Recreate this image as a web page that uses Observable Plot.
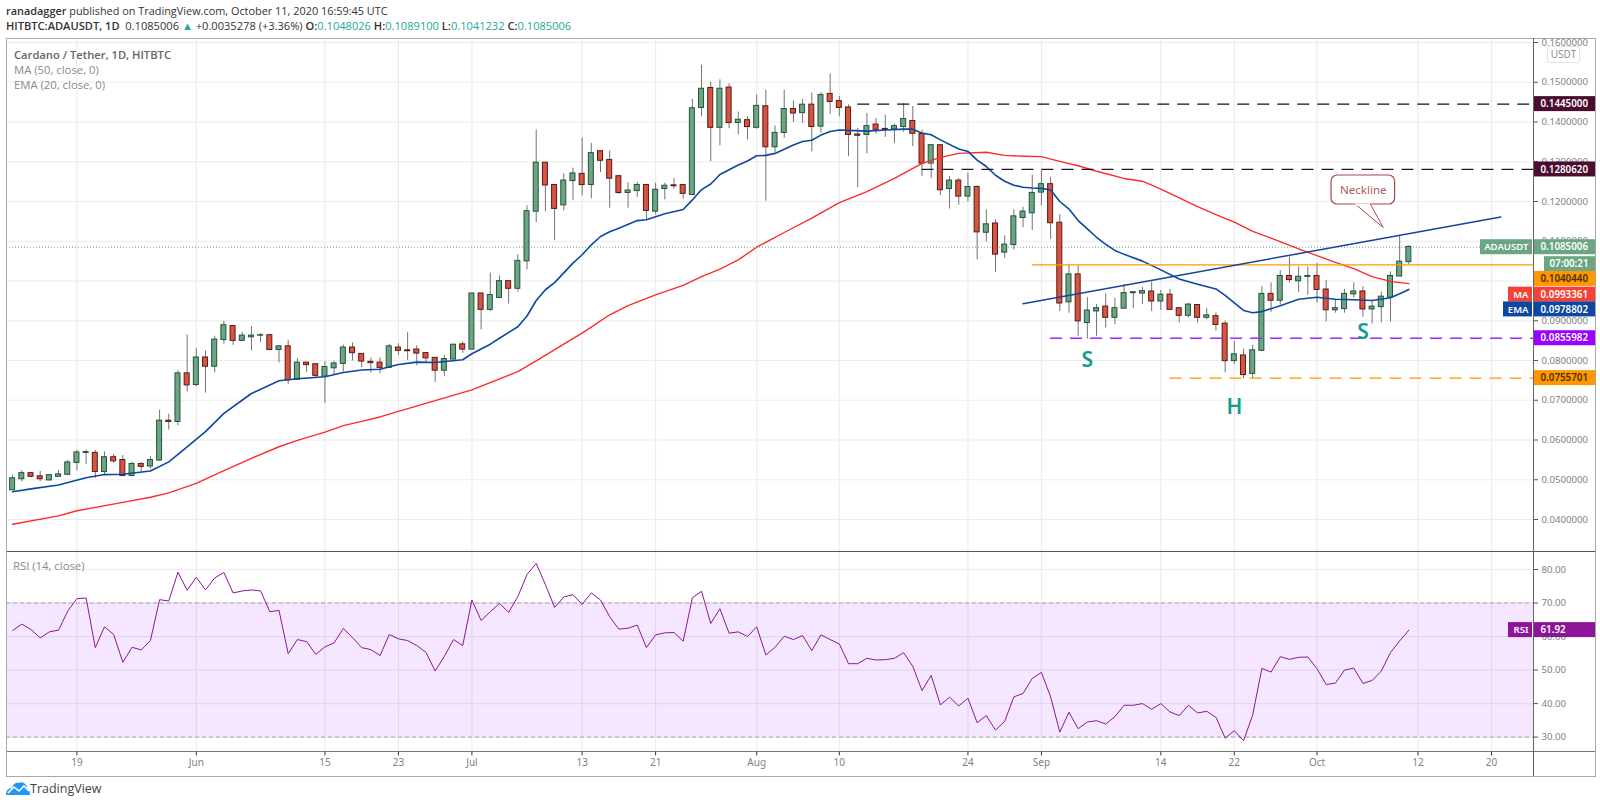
<!DOCTYPE html>
<html><head><meta charset="utf-8">
<script src="https://cdn.jsdelivr.net/npm/d3@7"></script>
<script src="https://cdn.jsdelivr.net/npm/@observablehq/plot@0.6"></script>
<style>
html,body{margin:0;padding:0;background:#fff;font-family:"Open Sans",sans-serif}
#root{position:relative;width:1600px;height:805px;overflow:hidden;background:#fff}
#root>*{position:absolute}
.t{color:#26a69a}
</style></head><body><div id="root"></div>
<script>
const open=[.0474,.0502,.0516,.0508,.0499,.0508,.0513,.0543,.0568,.0567,.0520,.0556,.0549,.0510,.0539,.0534,.0549,.0648,.0646,.0767,
.0739,.0807,.0785,.0852,.0886,.0850,.0859,.0863,.0863,.0827,.0835,.0752,.0794,.0790,.0760,.0781,.0792,.0832,.0816,.0796,.0794,.0782,.0832,.0825,.0827,.0818,.0806,.0775,.0803,.0840,
.0828,.0968,.0928,.0958,.0999,.0981,.1050,.1175,.1297,.1241,.1191,.1252,.1269,.1242,.1326,.1304,.1263,.1222,.1227,.1241,.1175,.1232,.1240,.1241,.1217,.1436,.1485,.1386,.1486,.1398,.1404,
.1386,.1439,.1337,.1373,.1432,.1423,.1443,.1389,.1470,.1452,.1436,.1368,.1368,.1393,.1382,.1382,.1388,.1402,.1369,.1296,.1341,.1232,.1252,.1213,.1236,.1122,.1144,.1072,.1091,.1159,.1171,
.1223,.1243,.1146,.0947,.1016,.0895,.0924,.0935,.0908,.0931,.0970,.0969,.0973,.0949,.0965,.0931,.0913,.0939,.0908,.0911,.0892,.0799,.0812,.0767,.0825,.0967,.0951,.1012,.1000,.1011,
.1012,.0978,.0927,.0930,.0967,.0973,.0929,.0935,.0959,.1012,.1048026];
const close=[.0503,.0516,.0508,.0502,.0511,.0513,.0543,.0568,.0569,.0520,.0556,.0547,.0510,.0539,.0533,.0549,.0648,.0646,.0767,.0738,
.0807,.0785,.0852,.0888,.0850,.0862,.0862,.0863,.0827,.0835,.0751,.0794,.0789,.0762,.0783,.0792,.0832,.0819,.0798,.0794,.0782,.0835,.0825,.0824,.0818,.0806,.0775,.0803,.0839,.0828,
.0968,.0928,.0964,.0999,.0981,.1050,.1175,.1297,.1241,.1182,.1252,.1270,.1242,.1321,.1303,.1258,.1222,.1227,.1241,.1177,.1229,.1239,.1239,.1220,.1434,.1483,.1386,.1483,.1398,.1405,.1388,
.1440,.1337,.1372,.1432,.1422,.1443,.1388,.1467,.1451,.1436,.1368,.1366,.1389,.1381,.1381,.1389,.1407,.1371,.1296,.1341,.1229,.1252,.1213,.1236,.1123,.1142,.1067,.1091,.1162,.1174,.1221,
.1243,.1146,.0944,.1016,.0899,.0925,.0931,.0908,.0931,.0969,.0971,.0974,.0949,.0965,.0928,.0913,.0940,.0908,.0913,.0890,.0799,.0815,.0764,.0825,.0967,.0951,.1012,.1003,.1010,.1012,
.0978,.0927,.0931,.0967,.0973,.0929,.0935,.0960,.1012,.1048,.1085006];
const high=[.0512,.0523,.0518,.0521,.0513,.0523,.0549,.0574,.0574,.0574,.0570,.0564,.0561,.0544,.0543,.0559,.0675,.0665,.0774,.0864,
.0830,.0824,.0861,.0899,.0888,.0871,.0885,.0868,.0866,.0837,.0851,.0805,.0795,.0791,.0797,.0798,.0839,.0844,.0816,.0806,.0807,.0841,.0842,.0870,.0837,.0818,.0806,.0812,.0842,.0847,
.0968,.0968,.1020,.1013,.0999,.1066,.1189,.1380,.1297,.1241,.1270,.1284,.1360,.1346,.1326,.1327,.1266,.1247,.1248,.1241,.1246,.1246,.1258,.1242,.1457,.1543,.1500,.1506,.1496,.1425,.1413,
.1468,.1480,.1390,.1480,.1453,.1457,.1472,.1474,.1521,.1464,.1443,.1384,.1421,.1409,.1417,.1395,.1447,.1439,.1380,.1342,.1342,.1263,.1258,.1271,.1239,.1179,.1154,.1114,.1179,.1185,.1266,
.1279,.1261,.1167,.1040,.1038,.0958,.0941,.0968,.0956,.0991,.0973,.0984,.0997,.0976,.0979,.0931,.0944,.0939,.0931,.0920,.0899,.0848,.0828,.0838,.0986,.0995,.1026,.1060,.1035,.1035,
.1044,.1001,.0954,.0979,.0995,.0986,.0948,.0972,.1023,.1114,.1089100];
const low=[.0474,.0495,.0505,.0495,.0497,.0508,.0510,.0523,.0538,.0503,.0513,.0541,.0510,.0510,.0520,.0527,.0546,.0625,.0636,.0721,
.0734,.0718,.0769,.0841,.0838,.0848,.0824,.0845,.0827,.0794,.0740,.0750,.0770,.0757,.0692,.0764,.0771,.0799,.0782,.0769,.0767,.0782,.0813,.0800,.0787,.0793,.0745,.0760,.0802,.0818,
.0828,.0877,.0923,.0958,.0942,.0972,.1028,.1147,.1174,.1102,.1176,.1203,.1214,.1207,.1273,.1183,.1217,.1183,.1210,.1154,.1166,.1204,.1231,.1206,.1217,.1413,.1300,.1340,.1383,.1368,.1355,
.1382,.1201,.1323,.1359,.1399,.1397,.1325,.1372,.1419,.1413,.1313,.1235,.1320,.1370,.1361,.1346,.1374,.1338,.1263,.1258,.1215,.1181,.1191,.1199,.1053,.1098,.1022,.1057,.1078,.1134,.1127,
.1189,.1105,.0923,.0919,.0861,.0854,.0861,.0882,.0890,.0930,.0930,.0941,.0923,.0926,.0928,.0894,.0907,.0894,.0903,.0874,.0769,.0790,.0754,.0754,.0822,.0921,.0940,.0995,.0971,.0964,
.0945,.0897,.0919,.0919,.0957,.0909,.0892,.0895,.0897,.1012,.1041232];
const rsi=[61.8,63.7,62.1,59.6,61.4,61.9,67.6,71.3,71.5,56.7,62.9,60.6,52.3,56.8,56.0,58.8,71.0,70.6,79.2,73.8,
77.7,73.9,77.5,79.1,73.0,73.6,73.9,73.6,67.4,67.8,54.9,59.1,58.5,54.7,56.9,58.1,62.4,59.7,56.7,56.1,54.3,60.6,59.3,58.8,57.3,55.3,49.7,54.1,59.1,57.3,
70.9,64.8,67.4,69.9,67.2,71.9,78.5,81.8,75.5,68.7,71.8,72.5,69.6,73.0,70.9,65.9,62.2,62.5,63.4,56.7,60.5,61.1,61.2,58.6,71.6,73.5,63.9,68.3,61.0,61.4,60.0,
62.9,54.5,56.8,60.1,59.1,60.3,55.8,60.5,59.1,57.8,51.9,51.9,53.5,53.0,53.1,53.5,55.2,51.1,43.9,48.4,39.6,41.9,39.3,41.6,34.3,36.4,32.1,34.7,42.0,43.0,47.5,
49.3,42.0,31.5,37.4,32.5,34.5,34.9,33.9,36.1,39.5,39.5,40.0,38.3,40.0,37.5,36.4,39.5,37.2,37.7,35.9,29.7,31.9,28.9,36.6,50.5,49.4,54.0,53.2,53.8,53.9,
50.4,45.7,46.1,50.0,50.6,46.0,46.9,49.7,55.2,58.7,61.92];
const emaDates=["05-12","05-14","05-17","05-20","05-22","05-24","05-27","05-29","05-31","06-02","06-04","06-07","06-10","06-12","06-15","06-17","06-19","06-21","06-23","06-25","06-27","06-30","07-01","07-03","07-04","07-06","07-07","07-08","07-09","07-10","07-12","07-13","07-14","07-15","07-16","07-17","07-19","07-20","07-22","07-24","07-25","07-26","07-27","07-28","07-30","07-31","08-01","08-02","08-03","08-05","08-06","08-07","08-08","08-09","08-10","08-11","08-13","08-15","08-17","08-18","08-19","08-20","08-21","08-23","08-24","08-25","08-26","08-27","08-28","08-29","08-30","08-31","09-01","09-02","09-03","09-04","09-05","09-06","09-07","09-08","09-09","09-10","09-12","09-14","09-16","09-18","09-20","09-21","09-22","09-23","09-24","09-25","09-27","09-29","10-01","10-03","10-05","10-07","10-09","10-10","10-11"];
const emaValues=[.0470,.0477,.0487,.0505,.0513,.0514,.0522,.0545,.0583,.0621,.0667,.0717,.0749,.0754,.0759,.0770,.0776,.0778,.0790,.0796,.0795,.0802,.0817,.0841,.0856,.0885,.0912,.0951,.0978,.0996,.1045,.1066,.1091,.1112,.1124,.1133,.1152,.1154,.1169,.1180,.1204,.1230,.1244,.1268,.1292,.1302,.1315,.1316,.1321,.1342,.1351,.1354,.1367,.1376,.1380,.1379,.1377,.1380,.1382,.1382,.1372,.1368,.1355,.1332,.1326,.1304,.1288,.1266,.1251,.1241,.1236,.1234,.1233,.1229,.1200,.1181,.1152,.1131,.1110,.1092,.1077,.1067,.1050,.1028,.1005,.0992,.0980,.0964,.0945,.0926,.0920,.0923,.0938,.0954,.0959,.0954,.0953,.0951,.0958,.0968,.0978802];
const maDates=["05-12","05-17","05-19","05-24","05-27","05-29","06-01","06-04","06-07","06-10","06-12","06-15","06-17","06-19","06-21","06-23","07-01","07-06","07-08","07-11","07-13","07-16","07-18","07-21","07-24","07-26","07-28","07-30","08-01","08-04","08-07","08-10","08-13","08-16","08-19","08-21","08-23","08-26","08-28","08-30","09-01","09-03","09-05","09-07","09-10","09-12","09-14","09-18","09-20","09-22","09-24","09-26","09-29","10-01","10-03","10-05","10-07","10-09","10-11"];
const maValues=[.0388,.0409,.0422,.0443,.0456,.0467,.0491,.0523,.0554,.0583,.0599,.0620,.0636,.0647,.0658,.0672,.0726,.0772,.0799,.0841,.0869,.0915,.0938,.0965,.0989,.1011,.1030,.1053,.1085,.1122,.1158,.1197,.1225,.1258,.1296,.1311,.1321,.1324,.1316,.1314,.1313,.1301,.1290,.1276,.1258,.1251,.1231,.1187,.1167,.1148,.1125,.1108,.1081,.1064,.1047,.1031,.1011,.0999,.0993361];
const priceTicks=[.04,.05,.06,.07,.08,.09,.10,.11,.12,.13,.14,.15,.16];
const rsiTicks=[30,40,50,60,70,80];
const tickDays=["2020-05-19","2020-06-01","2020-06-15","2020-06-23","2020-07-01","2020-07-13","2020-07-21","2020-08-01","2020-08-10","2020-08-24","2020-09-01","2020-09-14","2020-09-22","2020-10-01","2020-10-12","2020-10-20"];
const tickLabels=["19","Jun","15","23","Jul","13","21","Aug","10","24","Sep","14","22","Oct","12","20"];
const levels=[
 {value:.1445,from:"2020-08-12",stroke:"#111",dash:"12 8"},
 {value:.128062,from:"2020-08-19",stroke:"#2a1020",dash:"12 8"},
 {value:.104044,from:"2020-08-31",stroke:"#ff9800",dash:null},
 {value:.0855982,from:"2020-09-02",stroke:"#9c27ff",dash:"12 8"},
 {value:.0755701,from:"2020-09-15",stroke:"#ff9800",dash:"12 8"}];
const neckline=[{date:"2020-08-30",value:.0943},{date:"2020-10-21",value:.1161}];
const patternLabels=[{date:"2020-09-06",value:.0800,text:"S"},{date:"2020-09-22",value:.0682,text:"H"},{date:"2020-10-06",value:.0870,text:"S"}];

const dt=s=>new Date(s.length===10?s+"T00:00Z":s);
const days=d3.utcDay.range(new Date(Date.UTC(2020,4,12)),new Date(Date.UTC(2020,9,12)));
const candles=days.map((date,i)=>({date,open:open[i],high:high[i],low:low[i],close:close[i]}));
const up=candles.filter(d=>d.close>=d.open), down=candles.filter(d=>d.close<d.open);
const lineOf=(ds,vs)=>ds.map((s,i)=>({date:dt("2020-"+s),value:vs[i]}));
const xDomain=[new Date(Date.UTC(2020,4,11,8)),new Date(Date.UTC(2020,9,24,13,40))];
const axisEnd=xDomain[1];
const FONT='"Open Sans",sans-serif';
const GRID="#ececec", TICKTXT="#7f7f7f", TF=9.6;

function tag(value,text,fill,color,{dy=0,left=0,sideText=null,start=0}={}){
  const row=[{value}], m=[];
  m.push(Plot.rect(row,{x1:()=>axisEnd,x2:()=>axisEnd,y1:"value",y2:"value",insetLeft:start,insetRight:-62,insetTop:-7.5,insetBottom:-7.5,dy,fill}));
  m.push(Plot.text(row,{x:()=>axisEnd,y:"value",dy,dx:start?start+5:7,text:()=>text,fill:color,textAnchor:"start",fontWeight:600,fontSize:TF+.2}));
  if(left){
    m.push(Plot.rect(row,{x1:()=>axisEnd,x2:()=>axisEnd,y1:"value",y2:"value",insetLeft:-left,insetRight:1,insetTop:-7.5,insetBottom:-7.5,dy,fill}));
    m.push(Plot.text(row,{x:()=>axisEnd,y:"value",dy,dx:-5,text:()=>sideText,fill:color,textAnchor:"end",fontWeight:600,fontSize:TF}));
  }
  return m;
}
const callout={x1:dt("2020-10-02T14:00Z"),x2:dt("2020-10-09T12:00Z"),top:.12654,bottom:.11925,
  tail:[{date:dt("2020-10-05T05:00Z"),value:.11925},{date:dt("2020-10-08T05:00Z"),value:.11346},{date:dt("2020-10-06T20:00Z"),value:.11925}]};

const main=Plot.plot({
  width:1600,height:513,marginLeft:6,marginRight:67,marginTop:0,marginBottom:0,
  style:{fontFamily:FONT,fontSize:"10px",background:"transparent",color:TICKTXT},
  x:{type:"utc",domain:xDomain,range:[6,1533]},
  y:{domain:[.04,.16],range:[481,4]},
  marks:[
    Plot.gridY(priceTicks,{stroke:GRID,strokeOpacity:1,strokeWidth:1.2}),
    Plot.gridX(tickDays.map(dt),{stroke:GRID,strokeOpacity:1,strokeWidth:1.2}),
    Plot.ruleY([.1085006],{stroke:"#6ba583",strokeDasharray:"1 2"}),
    Plot.ruleX(candles,{x:"date",y1:"low",y2:"high",stroke:"#737375",strokeWidth:1}),
    Plot.rect(up,{x1:"date",x2:"date",y1:"open",y2:"close",insetLeft:-2.5,insetRight:-2.5,insetTop:-.25,insetBottom:-.25,fill:"#6ba583",stroke:"#225437"}),
    Plot.rect(down,{x1:"date",x2:"date",y1:"open",y2:"close",insetLeft:-2.5,insetRight:-2.5,insetTop:-.25,insetBottom:-.25,fill:"#d75442",stroke:"#5b1a13"}),
    Plot.line(lineOf(maDates,maValues),{x:"date",y:"value",stroke:"#ff2a2a",strokeWidth:1.4,curve:"linear"}),
    Plot.line(lineOf(emaDates,emaValues),{x:"date",y:"value",stroke:"#0d47a1",strokeWidth:1.6,curve:"linear"}),
    ...levels.map(l=>Plot.ruleY([l],{y:"value",x1:()=>dt(l.from),x2:()=>axisEnd,stroke:l.stroke,strokeDasharray:l.dash,strokeWidth:l.dash?1.3:1.2})),
    Plot.line(neckline.map(d=>({date:dt(d.date),value:d.value})),{x:"date",y:"value",stroke:"#16459c",strokeWidth:1.5}),
    Plot.text(patternLabels,{x:d=>dt(d.date),y:"value",text:"text",fill:"#149b8b",fontSize:21,fontWeight:600}),
    Plot.rect([callout],{x1:"x1",x2:"x2",y1:"top",y2:"bottom",rx:6,fill:"#fff",stroke:"#a8474a",strokeWidth:1.2}),
    Plot.line(callout.tail,{x:"date",y:"value",fill:"#fff",stroke:"#a8474a",strokeWidth:1}),
    Plot.ruleY([callout],{y:"bottom",x1:()=>callout.tail[0].date,x2:()=>callout.tail[2].date,stroke:"#fff",strokeWidth:2}),
    Plot.text([callout],{x:d=>new Date((+d.x1+ +d.x2)/2),y:d=>(d.top+d.bottom)/2,text:()=>"Neckline",fill:"#b5565a",fontSize:11.5}),
    Plot.axisY(priceTicks,{anchor:"right",tickFormat:d=>d.toFixed(7),tickSize:4,tickPadding:4,stroke:"#555",fill:TICKTXT,label:null,fontSize:TF}),
    ...tag(.1445,"0.1445000","#4a0d2f","#fff"),
    ...tag(.128062,"0.1280620","#4a0d2f","#fff"),
    ...tag(.1085006,"0.1085006","#6ba583","#fff",{left:53,sideText:"ADAUSDT"}),
    ...tag(.1085006,"07:00:21","#6ba583","#fff",{dy:17,start:11}),
    ...tag(.104044,"0.1040440","#ff9800","#4d3000",{dy:14}),
    ...tag(.0993361,"0.0993361","#f44336","#fff",{dy:11,left:25,sideText:"MA"}),
    ...tag(.0978802,"0.0978802","#0d47a1","#fff",{dy:20,left:30,sideText:"EMA"}),
    ...tag(.0855982,"0.0855982","#9900ff","#fff"),
    ...tag(.0755701,"0.0755701","#ff9800","#4d3000")
  ]
});

const rsiRows=days.map((date,i)=>({date,value:rsi[i]}));
const rsiPlot=Plot.plot({
  width:1600,height:225,marginLeft:6,marginRight:67,marginTop:0,marginBottom:24.6,
  style:{fontFamily:FONT,fontSize:"10px",background:"transparent",color:TICKTXT},
  x:{type:"utc",domain:xDomain,range:[6,1533]},
  y:{domain:[30,80],range:[185.6,18]},
  marks:[
    Plot.gridY(rsiTicks,{stroke:GRID,strokeOpacity:1,strokeWidth:1.2}),
    Plot.gridX(tickDays.map(dt),{stroke:GRID,strokeOpacity:1,strokeWidth:1.2}),
    Plot.rect([{}],{x1:()=>xDomain[0],x2:()=>xDomain[1],y1:()=>30,y2:()=>70,fill:"#9915ff",fillOpacity:.1}),
    Plot.ruleY([30,70],{stroke:"#a8a2ad",strokeDasharray:"4 3"}),
    Plot.line(rsiRows,{x:"date",y:"value",stroke:"#8e1599",strokeWidth:1}),
    Plot.axisY(rsiTicks,{anchor:"right",tickFormat:d=>d.toFixed(2),tickSize:4,tickPadding:4,stroke:"#555",fill:TICKTXT,label:null,fontSize:TF}),
    Plot.axisX(tickDays.map(dt),{anchor:"bottom",tickFormat:(d,i)=>tickLabels[i],tickSize:4,tickPadding:3,stroke:"#333",fill:TICKTXT,label:null,fontSize:10}),
    ...tag(61.92,"61.92","#8e1599","#fff",{left:25,sideText:"RSI"})
  ]
});

const root=document.getElementById("root");
function add(html,css){const e=document.createElement("div");e.innerHTML=html;e.style.cssText=css;root.appendChild(e);return e;}
main.style.cssText="left:0;top:38px;display:block;max-width:none";
rsiPlot.style.cssText="left:0;top:551px;display:block;max-width:none";
root.appendChild(main);root.appendChild(rsiPlot);
add('<b style="font-weight:600">ranadagger</b> published on TradingView.com, October 11, 2020 16:59:45 UTC','top:3px;left:6px;white-space:nowrap;font-size:10.9px;color:#333');
add('<b style="font-weight:600">HITBTC:ADAUSDT, 1D</b>&nbsp; 0.1085006 <span class="t">▲</span> +0.0035278 (+3.36%) <b style="font-weight:600">O:</b><span class="t">0.1048026</span> <b style="font-weight:600">H:</b><span class="t">0.1089100</span> <b style="font-weight:600">L:</b><span class="t">0.1041232</span> <b style="font-weight:600">C:</b><span class="t">0.1085006</span>','top:18px;left:6px;white-space:nowrap;font-size:11.1px;color:#333');
add('<b style="font-weight:600;color:#666">Cardano / Tether, 1D, HITBTC</b>','top:47px;left:14px;white-space:nowrap;font-size:11.2px');
add('MA (50, close, 0)','top:62px;left:14px;white-space:nowrap;font-size:11.3px;color:#8a8a8a');
add('EMA (20, close, 0)','top:77px;left:14px;white-space:nowrap;font-size:11.3px;color:#8a8a8a');
add('RSI (14, close)','top:558px;left:13px;white-space:nowrap;font-size:11.3px;color:#8a8a8a');
add('USDT','left:1547px;top:46px;width:31px;height:15px;line-height:15px;text-align:center;font-size:10px;color:#8a8a8a;background:#fff;border:1px solid #e2e2e2;border-radius:3px');
add('','left:6px;top:38px;width:1588px;height:737px;border:1px solid #a8a8a8');
add('','left:7px;top:551px;width:1588px;height:1px;background:#555');
add('','left:7px;top:751px;width:1588px;height:1px;background:#777');
add('','left:1533px;top:38px;width:1px;height:738px;background:#666');
add('<svg width="24" height="14" viewBox="0 0 24 14"><path d="M0 14C0 9 3 7 6 7C7 3 10 1 13 2C16 0 21 3 21 7C23 8 24 11 24 14Z" fill="#2196f3"/><path d="M2 12L8 6L13 10L18 5L23 10" fill="none" stroke="#fff" stroke-width="1.6"/></svg>','left:6px;top:781px;line-height:0');
add('TradingView','left:30px;top:780px;font-size:12.5px;color:#444;white-space:nowrap');
</script></body></html>
